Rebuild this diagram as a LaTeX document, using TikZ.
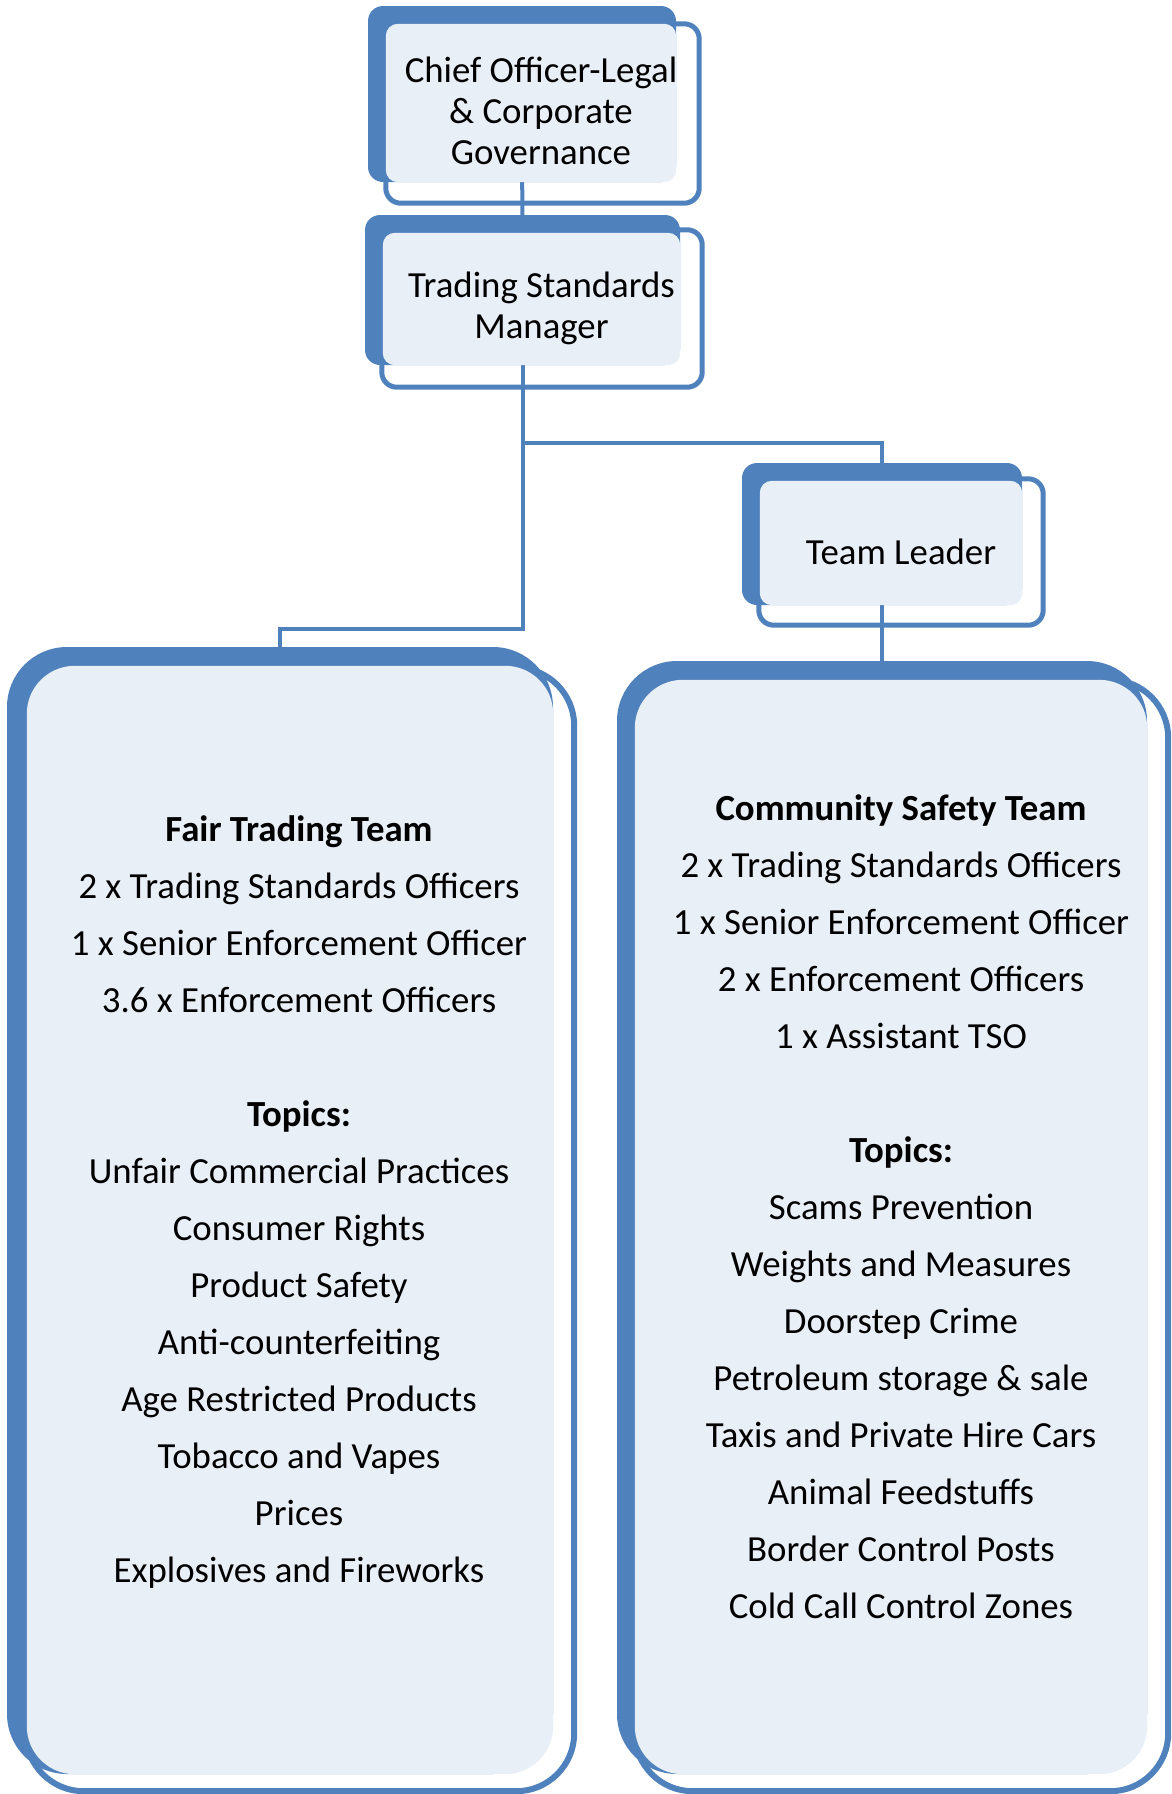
\documentclass[tikz,border=0pt]{standalone}
\usepackage{fontspec}
\setmainfont{Carlito}
\definecolor{orgblue}{HTML}{4F81BD}
\definecolor{orgpale}{HTML}{E9EFF7}
\tikzset{
	darkbox/.style={fill=orgblue, rounded corners=15pt, inner sep=0pt},
	bigdarkbox/.style={darkbox, rounded corners=60pt},
	rim/.style={draw=orgblue, line width=5pt, rounded corners=15pt},
	bigrim/.style={rim, line width=6pt, rounded corners=58pt},
	link/.style={draw=orgblue, line width=4pt},
	boxtext/.style={align=center, inner sep=0pt, font=\fontsize{36.8}{41}\selectfont},
	teamtext/.style={boxtext, font=\fontsize{36.8}{57}\selectfont}
}
\begin{document}
\begin{tikzpicture}[x=1pt, y=-1pt]
		\useasboundingbox (0,0) rectangle (1172,1794);
		% coordinates where the lines turn
		\coordinate (fairjoin) at (280,629);
		\coordinate (leaderjoin) at (882,443);
		% dark back shapes
		\node [darkbox, minimum width=308pt, minimum height=176pt] (chief) at (522,94) {};
		\node [darkbox, minimum width=315pt, minimum height=150pt] (manager) at (522.5,290) {};
		\node [darkbox, minimum width=280pt, minimum height=142pt] (leader) at (882,534) {};
		\node [bigdarkbox, minimum width=546pt, minimum height=1127pt] (fair) at (280,1210.5) {};
		\node [bigdarkbox, minimum width=530pt, minimum height=1113pt] (community) at (882,1217.5) {};
		% connectors
		\draw [link] (chief) -- (manager);
		\draw [link] (manager.south) |- (fairjoin) -- (fair.north);
		\draw [link] (manager.south) |- (leaderjoin) -- (leader.north);
		\draw [link] (leader.south) -- (community.north);
		% outlines
		\draw [rim] ([shift={(18,18)}]chief.north west) rectangle ([shift={(23,21)}]chief.south east);
		\draw [rim] ([shift={(17,15)}]manager.north west) rectangle ([shift={(22,22)}]manager.south east);
		\draw [rim] ([shift={(17,16)}]leader.north west) rectangle ([shift={(21,20)}]leader.south east);
		\draw [bigrim] ([shift={(19,21)}]fair.north west) rectangle ([shift={(21,17)}]fair.south east);
		\draw [bigrim] ([shift={(18,19)}]community.north west) rectangle ([shift={(21,17)}]community.south east);
		% pale fronts
		\fill [orgpale, rounded corners=12pt] ([shift={(18,18)}]chief.north west) rectangle (chief.south east);
		\fill [orgpale, rounded corners=12pt] ([shift={(18,18)}]manager.north west) rectangle (manager.south east);
		\fill [orgpale, rounded corners=12pt] ([shift={(18,18)}]leader.north west) rectangle (leader.south east);
		\fill [orgpale, rounded corners=48pt] ([shift={(20,19)}]fair.north west) rectangle (fair.south east);
		\fill [orgpale, rounded corners=48pt] ([shift={(18,19)}]community.north west) rectangle (community.south east);
		% texts
		\node [boxtext] (chieftext) at ([shift={(19,17)}]chief.center) {Chief Officer-Legal\\\& Corporate\\Governance};
		\node [boxtext] (managertext) at ([shift={(19,18)}]manager.center) {Trading Standards\\Manager};
		\node [boxtext] (leadertext) at ([shift={(19,18)}]leader.center) {Team Leader};
		\node [teamtext] (fairtext) at ([shift={(19,-8)}]fair.center) {\textbf{Fair Trading Team}\\2 x Trading Standards Officers\\1 x Senior Enforcement Officer\\3.6 x Enforcement Officers\\[57pt]\textbf{Topics:}\\Unfair Commercial Practices\\Consumer Rights\\Product Safety\\Anti-counterfeiting\\Age Restricted Products\\Tobacco and Vapes\\Prices\\Explosives and Fireworks};
		\node [teamtext] (communitytext) at ([shift={(19,-11)}]community.center) {\textbf{Community Safety Team}\\2 x Trading Standards Officers\\1 x Senior Enforcement Officer\\2 x Enforcement Officers\\1 x Assistant TSO\\[57pt]\textbf{Topics:}\\Scams Prevention\\Weights and Measures\\Doorstep Crime\\Petroleum storage \& sale\\Taxis and Private Hire Cars\\Animal Feedstuffs\\Border Control Posts\\Cold Call Control Zones};
	\end{tikzpicture}
\end{document}
